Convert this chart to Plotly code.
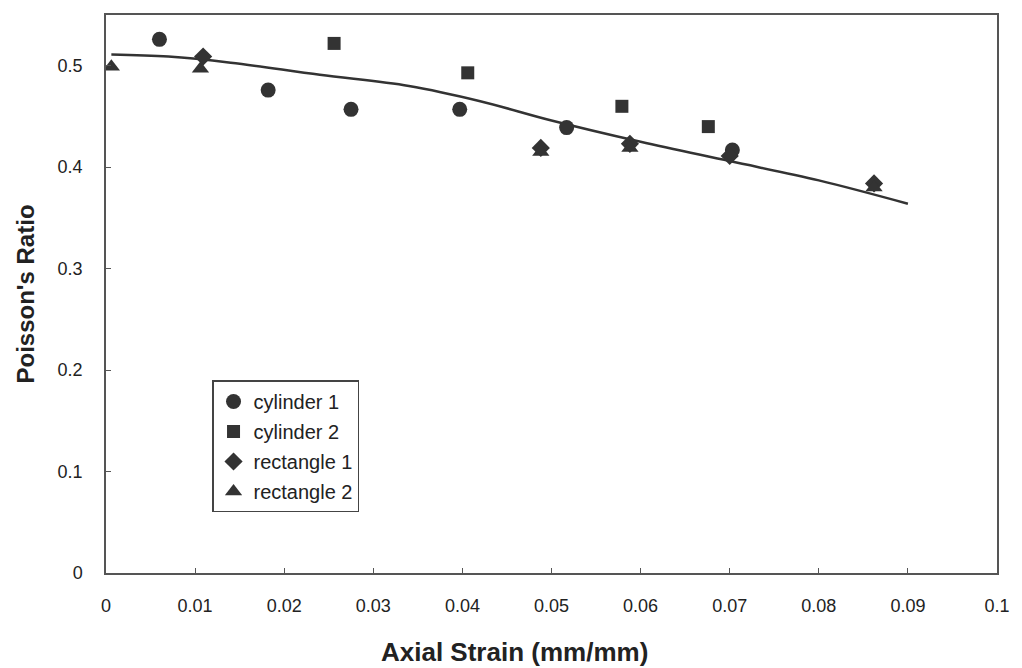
import plotly.graph_objects as go

# Measured Poisson's ratio vs axial strain for each specimen
cyl1_x = [0.0060, 0.0182, 0.0275, 0.0397, 0.0517, 0.0703]
cyl1_y = [0.526, 0.476, 0.457, 0.457, 0.439, 0.417]

cyl2_x = [0.0256, 0.0406, 0.0579, 0.0676]
cyl2_y = [0.522, 0.493, 0.460, 0.440]

rect1_x = [0.0109, 0.0488, 0.0588, 0.0700, 0.0862]
rect1_y = [0.509, 0.419, 0.423, 0.411, 0.384]

rect2_x = [0.0006, 0.0106, 0.0488, 0.0588, 0.0862]
rect2_y = [0.499, 0.497, 0.415, 0.419, 0.380]

# Fitted trend curve
trend_x = [0.0006, 0.007, 0.014, 0.024, 0.034, 0.042, 0.050, 0.060, 0.070, 0.080, 0.090]
trend_y = [0.511, 0.509, 0.503, 0.491, 0.480, 0.465, 0.446, 0.425, 0.406, 0.387, 0.364]

x_ticks = [0, 0.01, 0.02, 0.03, 0.04, 0.05, 0.06, 0.07, 0.08, 0.09, 0.1]
x_labels = ["0", "0.01", "0.02", "0.03", "0.04", "0.05", "0.06", "0.07", "0.08", "0.09", "0.1"]
y_ticks = [0, 0.1, 0.2, 0.3, 0.4, 0.5]
y_labels = ["0", "0.1", "0.2", "0.3", "0.4", "0.5"]

INK = "#333333"
FONT = "Liberation Sans, Arial, sans-serif"

fig = go.Figure()

fig.add_trace(go.Scatter(
    x=trend_x, y=trend_y, mode="lines", showlegend=False,
    line=dict(color=INK, width=2.5, shape="spline", smoothing=1.0),
))

series = [
    ("cylinder 1", cyl1_x, cyl1_y, "circle", 15),
    ("cylinder 2", cyl2_x, cyl2_y, "square", 13),
    ("rectangle 1", rect1_x, rect1_y, "diamond", 14),
    ("rectangle 2", rect2_x, rect2_y, "triangle-up", 15),
]
for name, xs, ys, sym, size in series:
    fig.add_trace(go.Scatter(
        x=xs, y=ys, mode="markers", name=name, legendgroup=name,
        marker=dict(symbol=sym, size=size, color=INK, line=dict(width=0)),
    ))

fig.update_layout(
    width=1022, height=668,
    margin=dict(l=106, r=19, t=15, b=95),
    paper_bgcolor="white", plot_bgcolor="white",
    font=dict(family=FONT, size=18, color="#222222"),
    legend=dict(
        x=0.119, y=0.345, xanchor="left", yanchor="top",
        bgcolor="white", bordercolor="#444444", borderwidth=1.5,
        font=dict(size=20, color="#222222"),
        tracegroupgap=1, itemsizing="trace",
    ),
    xaxis=dict(
        range=[0, 0.1], tickvals=x_ticks, ticktext=x_labels,
        showgrid=False, zeroline=False,
        showline=True, linecolor="#555555", linewidth=1.5, mirror=True,
        ticks="inside", ticklen=5, tickcolor="#555555",
        ticklabelstandoff=16, tickfont=dict(size=18),
    ),
    yaxis=dict(
        range=[0, 0.55], tickvals=y_ticks, ticktext=y_labels,
        showgrid=False, zeroline=False,
        showline=True, linecolor="#555555", linewidth=1.5, mirror=True,
        ticks="inside", ticklen=5, tickcolor="#555555",
        ticklabelstandoff=18, tickfont=dict(size=18),
        title=dict(text="<b>Poisson's Ratio</b>", font=dict(size=24), standoff=16),
    ),
    annotations=[dict(
        text="<b>Axial Strain (mm/mm)</b>", font=dict(size=26, color="#222222"),
        xref="paper", yref="paper", x=0.459, y=-0.1416,
        xanchor="center", yanchor="middle", showarrow=False,
    )],
)

fig.write_html("out.html")
